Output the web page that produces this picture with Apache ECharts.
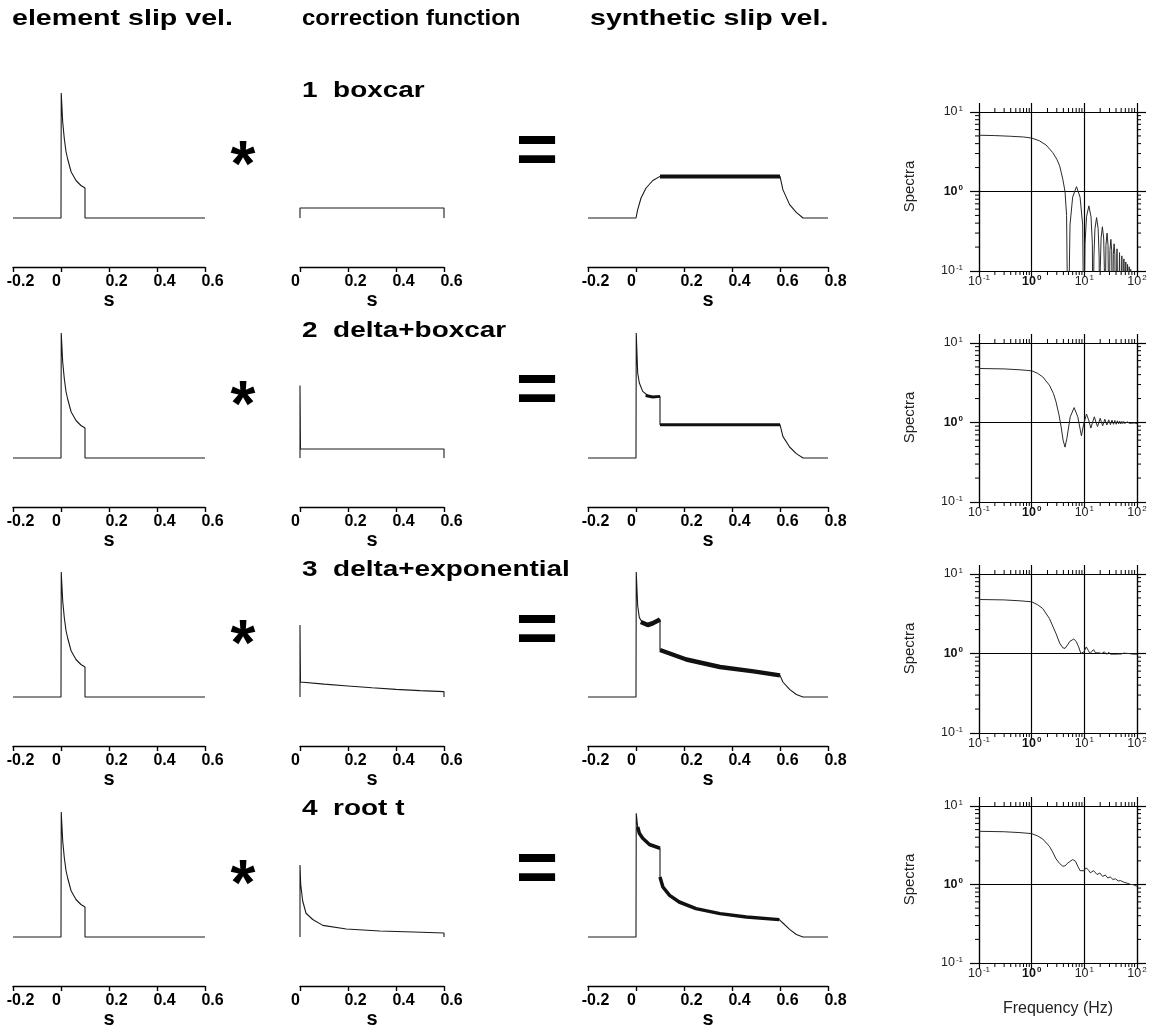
<!DOCTYPE html>
<html>
<head>
<meta charset="utf-8">
<title>slip velocity correction functions</title>
<script src="https://cdn.jsdelivr.net/npm/echarts@6/dist/echarts.min.js"></script>
<style>
html, body { margin: 0; padding: 0; background: #fff; }
#chart { width: 1161px; height: 1026px; }
</style>
</head>
<body>
<div id="chart"></div>
<script>
// ---- text ----
const columnTitles = ['element slip vel.', 'correction function', 'synthetic slip vel.'];
const rowTitles = ['1  boxcar', '2  delta+boxcar', '3  delta+exponential', '4  root t'];

// ---- time series, [t (s), amplitude] (element peak = 1) ----
const elementSlip = [[-0.2,0],[0,0],[0.001,1.0],[0.007,0.77],[0.014,0.63],[0.021,0.53],[0.028,0.47],[0.042,0.37],[0.0625,0.30],[0.083,0.26],[0.1,0.24],[0.1,0],[0.6,0]];

const corrBoxcar = [[0,0],[0,0.08],[0.6,0.08],[0.6,0]];
const corrDeltaBoxcar = [[0,0],[0,0.58],[0.002,0.072],[0.6,0.072],[0.6,0]];
const corrDeltaExp = [[0,0],[0,0.576],[0.002,0.12],[0.1,0.103],[0.2,0.088],[0.3,0.074],[0.4,0.061],[0.5,0.051],[0.6,0.043],[0.6,0]];
const corrRootT = [[0,0],[0,0.576],[0.003,0.42],[0.011,0.29],[0.025,0.19],[0.053,0.14],[0.095,0.093],[0.193,0.064],[0.332,0.048],[0.472,0.04],[0.6,0.032],[0.6,0]];

const synthBoxcar = [[-0.2,0],[0,0],[0.007,0.067],[0.021,0.16],[0.042,0.24],[0.07,0.30],[0.1,0.333],[0.6,0.333],[0.612,0.227],[0.64,0.107],[0.668,0.045],[0.696,0],[0.8,0]];
const synthDeltaBoxcar = [[-0.2,0],[0,0],[0.001,1.0],[0.007,0.68],[0.014,0.6],[0.028,0.533],[0.049,0.5],[0.07,0.488],[0.1,0.493],[0.1,0.267],[0.6,0.267],[0.612,0.173],[0.64,0.088],[0.668,0.035],[0.696,0],[0.8,0]];
const synthDeltaExp = [[-0.2,0],[0,0],[0.001,1.0],[0.007,0.73],[0.014,0.635],[0.028,0.59],[0.049,0.576],[0.07,0.59],[0.1,0.62],[0.1,0.376],[0.21,0.30],[0.35,0.24],[0.49,0.205],[0.6,0.173],[0.612,0.12],[0.64,0.061],[0.668,0.02],[0.696,0],[0.8,0]];
const synthRootT = [[-0.2,0],[0,0],[0.001,0.99],[0.007,0.88],[0.014,0.83],[0.028,0.79],[0.056,0.74],[0.1,0.71],[0.1,0.48],[0.112,0.40],[0.14,0.333],[0.18,0.28],[0.25,0.227],[0.35,0.187],[0.46,0.16],[0.597,0.139],[0.612,0.112],[0.64,0.061],[0.668,0.02],[0.696,0],[0.8,0]];

// stretches where the synthetic trace is a dense (thick) band
const synthBoxcarBands = [[[0.1,0.333],[0.6,0.333]]];
const synthDeltaBoxcarBands = [[[0.04,0.5],[0.07,0.488],[0.1,0.493]], [[0.1,0.267],[0.6,0.267]]];
const synthDeltaExpBands = [[[0.02,0.6],[0.049,0.576],[0.07,0.59],[0.1,0.62]], [[0.1,0.376],[0.21,0.30],[0.35,0.24],[0.49,0.205],[0.6,0.173]]];
const synthRootTBands = [[[0.007,0.88],[0.014,0.83],[0.028,0.79],[0.056,0.74],[0.1,0.71]], [[0.1,0.48],[0.112,0.40],[0.14,0.333],[0.18,0.28],[0.25,0.227],[0.35,0.187],[0.46,0.16],[0.597,0.139]]];

// ---- spectra, [frequency (Hz), amplitude] ----
const specBoxcar = [[0.1,5.1],[0.2,5.05],[0.4,4.95],[0.7,4.85],[1.0,4.7],[1.4,4.35],[1.87,3.85],[2.5,3.1],[3.0,2.55],[3.4,2.1],[3.9,1.43],[4.3,1.0],[4.6,0.5],[4.9,0.01],
  [5.35,0.38],[6.0,0.85],[7.1,1.15],[8.3,0.85],[9.3,0.38],[9.8,0.01],
  [10.3,0.22],[11.0,0.48],[12.2,0.66],[13.4,0.48],[14.2,0.22],[14.7,0.01],
  [15.2,0.15],[15.9,0.34],[17.1,0.47],[18.3,0.34],[19.1,0.15],[19.6,0.01],
  [20.1,0.11],[20.8,0.26],[22.0,0.36],[23.3,0.26],[24.0,0.11],[24.5,0.01],
  [25.7,0.21],[27.0,0.30],[28.2,0.21],[29.4,0.01],
  [30.6,0.18],[31.9,0.25],[33.1,0.18],[34.3,0.01],
  [35.5,0.16],[36.8,0.22],[38.0,0.16],[39.2,0.01],
  [41.7,0.19],[44.1,0.01],[46.6,0.17],[49.0,0.01],[51.5,0.155],[53.9,0.01],[56.4,0.142],[58.8,0.01],
  [61.3,0.13],[63.7,0.01],[66.2,0.121],[68.6,0.01],[71.1,0.113],[73.5,0.01],[76.0,0.105],[78.4,0.01],
  [80.9,0.099],[83.3,0.01],[85.8,0.093],[88.2,0.01],[90.7,0.088],[93.1,0.01],[95.6,0.084],[98,0.01],[100,0.03]];
const specDeltaBoxcar = [[0.1,4.78],[0.3,4.72],[0.6,4.6],[1.0,4.47],[1.3,4.15],[1.62,3.75],[2.17,2.95],[2.6,2.3],[2.9,1.82],[3.3,1.25],[3.63,0.88],[3.95,0.6],[4.3,0.49],[4.66,0.63],[5.4,1.18],[6.4,1.54],[7.5,1.18],[8.8,0.68],[9.7,0.95],[11.0,1.28],[12.2,1.05],[13.3,0.85],[14.3,1.0],[15.5,1.18],[16.7,1.0],[17.8,0.89],[18.9,1.0],[20.0,1.13],[21.2,1.0],[22.3,0.91],[23.4,1.0],[24.5,1.1],[25.7,1.0],[26.8,0.93],[29,1.08],[31.3,0.94],[33.5,1.07],[35.8,0.95],[38,1.06],[40.3,0.95],[42.5,1.05],[44.8,0.96],[47,1.04],[49.3,0.96],[51.5,1.03],[53.8,0.97],[56,1.03],[58.3,0.97],[60.5,1.02],[62.8,0.97],[65,1.02],[67.3,0.975],[69.5,1.015],[72,0.975],[76,1.01],[80,0.98],[85,1.0],[90,0.985],[100,0.97]];
const specDeltaExp = [[0.1,4.78],[0.3,4.72],[0.6,4.6],[1.0,4.47],[1.3,4.1],[1.62,3.68],[2.17,2.76],[2.9,1.78],[3.4,1.35],[3.9,1.18],[4.3,1.16],[4.8,1.28],[5.3,1.42],[6.3,1.52],[7.0,1.42],[7.8,1.21],[8.6,1.0],[9.1,0.95],[9.8,1.05],[10.9,1.21],[12.0,1.08],[12.8,1.0],[13.6,1.02],[15.0,1.12],[16.3,1.02],[17.5,0.97],[18.8,1.02],[20,1.08],[21.5,1.0],[22.5,0.97],[24,1.05],[26.8,0.975],[29,1.04],[31.3,0.98],[33.5,1.03],[35.8,0.98],[38,1.025],[40.3,0.98],[42.5,1.02],[45,0.985],[47,1.015],[50,0.985],[55,1.01],[60,0.985],[70,1.0],[80,0.985],[100,0.98]];
const specRootT = [[0.1,4.76],[0.3,4.7],[0.6,4.58],[1.0,4.45],[1.3,4.15],[1.62,3.8],[2.17,3.07],[2.5,2.6],[2.9,2.12],[3.4,1.85],[3.9,1.71],[4.3,1.73],[4.87,1.88],[6.0,2.08],[6.8,1.98],[7.5,1.71],[8.3,1.5],[9.0,1.43],[9.8,1.5],[10.9,1.63],[12.0,1.52],[13.0,1.41],[14.0,1.45],[15.0,1.5],[16.2,1.43],[17.4,1.34],[18.5,1.38],[19.7,1.4],[21,1.33],[22.2,1.27],[23.5,1.31],[25,1.32],[26.5,1.26],[28,1.21],[29.5,1.25],[31,1.25],[33,1.19],[35,1.16],[37,1.19],[39,1.18],[41.5,1.13],[44,1.11],[46.5,1.13],[49,1.12],[52,1.08],[56,1.07],[60,1.06],[65,1.04],[70,1.02],[76,1.0],[84,1.0],[92,0.97],[100,0.95]];

// log axis minor ticks
const minorMultipliers = [2, 3, 4, 5, 6, 7, 8, 9];
const freqDecades = [0.1, 1, 10];
const specDecades = [0.1, 1];

const rows = [
  { corr: corrBoxcar, synth: synthBoxcar, bands: synthBoxcarBands, spec: specBoxcar },
  { corr: corrDeltaBoxcar, synth: synthDeltaBoxcar, bands: synthDeltaBoxcarBands, spec: specDeltaBoxcar },
  { corr: corrDeltaExp, synth: synthDeltaExp, bands: synthDeltaExpBands, spec: specDeltaExp },
  { corr: corrRootT, synth: synthRootT, bands: synthRootTBands, spec: specRootT }
];

// ---- layout ----
const FONT = '"Liberation Sans", Arial, Helvetica, sans-serif';
const WAVE_AXIS_Y = [267, 507, 746, 986];
const WAVE_COLS = [
  { left: 13, width: 192, min: -0.2, max: 0.6 },
  { left: 300, width: 144, min: 0, max: 0.6 },
  { left: 588, width: 240, min: -0.2, max: 0.8 }
];
const Y_MIN = -0.392, Y_MAX = 1.2, PX_PER_UNIT = 125;
const BAND_WIDTH = [4, 3, 4.5, 3.5];
const SPEC_LEFT = 979, SPEC_W = 158;
const SPEC_TOP = [112, 343, 574, 806];
const SPEC_H = [159, 159, 159, 157];
const STAR_Y = [168, 408, 647, 887];
const EQ_Y = [153, 392, 632, 871];
const ROW_TITLE_Y = [91, 331, 570, 809];
const COL_TITLE_X = [12, 302, 590];
const COL_TITLE_STRETCH = [1.3, 1.09, 1.3];

const chart = echarts.init(document.getElementById('chart'));
const grids = [], xAxes = [], yAxes = [], series = [], graphics = [];

function timeLabel(v) {
  const r = Math.round(v * 10) / 10;
  return r === 0 ? '{z|0}' : '{d|' + r + '}';
}
const tickText = { fontSize: 16, fontWeight: 'bold', fontFamily: FONT, color: '#000', lineHeight: 16 };

// the 10^0 labels are printed heavier in the original
function powLabel(v) {
  const p = Math.round(Math.log10(v));
  return p === 0 ? '{bb|10}{eb|0}' : '{b|10}{e|' + p + '}';
}
const powRich = {
  b: { fontSize: 12.5, fontFamily: FONT, color: '#222' },
  e: { fontSize: 8, fontFamily: FONT, color: '#222', padding: [0, 0, 7, 1] },
  bb: { fontSize: 12.5, fontWeight: 'bold', fontFamily: FONT, color: '#111' },
  eb: { fontSize: 8, fontWeight: 'bold', fontFamily: FONT, color: '#111', padding: [0, 0, 7, 1] }
};

function tickLine(x1, y1, x2, y2) {
  return { type: 'line', shape: { x1, y1, x2, y2 }, style: { stroke: '#000', lineWidth: 1 } };
}

function makeGrid(left, width, top, height) {
  return { left, width, top, height, containLabel: false, outerBoundsMode: 'none' };
}

rows.forEach((row, r) => {
  const panels = [elementSlip, row.corr, row.synth];
  const h = (Y_MAX - Y_MIN) * PX_PER_UNIT;
  WAVE_COLS.forEach((col, c) => {
    const idx = grids.length;
    grids.push(makeGrid(col.left, col.width, WAVE_AXIS_Y[r] - h, h));
    xAxes.push({
      type: 'value', gridIndex: idx, min: col.min, max: col.max, interval: 0.2,
      axisLine: { onZero: false, lineStyle: { color: '#000', width: 1.4 } },
      axisTick: { length: 5, lineStyle: { color: '#000', width: 1.4 } },
      splitLine: { show: false },
      axisLabel: { margin: 7, formatter: timeLabel,
        rich: { z: Object.assign({ padding: [0, 9, 0, 0] }, tickText), d: Object.assign({ padding: [0, 0, 0, 15] }, tickText) } },
      name: 's', nameLocation: 'middle', nameGap: 19,
      nameTextStyle: { fontSize: 20, fontWeight: 'bold', fontFamily: FONT, color: '#000' }
    });
    yAxes.push({ type: 'value', gridIndex: idx, min: Y_MIN, max: Y_MAX, show: false });
    series.push({
      type: 'line', xAxisIndex: idx, yAxisIndex: idx, data: panels[c], symbol: 'none',
      lineStyle: { color: '#1a1a1a', width: 1.1 }, silent: true
    });
    if (c === 2) {
      row.bands.forEach(b => series.push({
        type: 'line', xAxisIndex: idx, yAxisIndex: idx, data: b, symbol: 'none',
        lineStyle: { color: '#111', width: BAND_WIDTH[r] }, silent: true
      }));
    }
  });
});

const xMinor = freqDecades.flatMap(d => minorMultipliers.map(m => [+(m * d).toPrecision(3), 1]));
const yMinor = specDecades.flatMap(d => minorMultipliers.map(m => [1, +(m * d).toPrecision(3)]));

rows.forEach((row, r) => {
  const g = grids.length;
  grids.push(makeGrid(SPEC_LEFT, SPEC_W, SPEC_TOP[r], SPEC_H[r]));
  const axisLine = { lineStyle: { color: '#000', width: 1.2 } };
  const xb = xAxes.length;
  xAxes.push({
    type: 'log', logBase: 10, gridIndex: g, min: 0.1, max: 100, position: 'bottom',
    axisLine, axisTick: { length: 6, lineStyle: { color: '#000', width: 1.2 } },
    splitLine: { show: true, lineStyle: { color: '#000', width: 1.2 } },
    axisLabel: { margin: 3, formatter: powLabel, rich: powRich }
  });
  xAxes.push({
    type: 'log', logBase: 10, gridIndex: g, min: 0.1, max: 100, position: 'top',
    axisLine, axisTick: { length: 9, lineStyle: { color: '#000', width: 1.2 } },
    splitLine: { show: false }, axisLabel: { show: false }
  });
  const yl = yAxes.length;
  yAxes.push({
    type: 'log', logBase: 10, gridIndex: g, min: 0.1, max: 10, position: 'left',
    axisLine, axisTick: { length: 9, lineStyle: { color: '#000', width: 1.2 } },
    splitLine: { show: true, lineStyle: { color: '#000', width: 1.2 } },
    axisLabel: { margin: 16, formatter: powLabel, rich: powRich }
  });
  yAxes.push({
    type: 'log', logBase: 10, gridIndex: g, min: 0.1, max: 10, position: 'right',
    axisLine, axisTick: { length: 9, lineStyle: { color: '#000', width: 1.2 } },
    splitLine: { show: false }, axisLabel: { show: false }
  });
  series.push({
    type: 'line', xAxisIndex: xb, yAxisIndex: yl, data: row.spec, symbol: 'none', clip: true,
    lineStyle: { color: '#2a2a2a', width: 1 }, silent: true
  });
  series.push({
    type: 'custom', xAxisIndex: xb, yAxisIndex: yl, data: xMinor, silent: true,
    renderItem: (params, api) => {
      const v = api.value(0);
      const b = api.coord([v, 0.1]), t = api.coord([v, 10]);
      return { type: 'group', children: [tickLine(b[0], b[1], b[0], b[1] + 4), tickLine(t[0], t[1], t[0], t[1] - 4)] };
    }
  });
  series.push({
    type: 'custom', xAxisIndex: xb, yAxisIndex: yl, data: yMinor, silent: true,
    renderItem: (params, api) => {
      const v = api.value(1);
      const a = api.coord([0.1, v]), b = api.coord([100, v]);
      return { type: 'group', children: [tickLine(a[0], a[1], a[0] - 4, a[1]), tickLine(b[0], b[1], b[0] + 4, b[1])] };
    }
  });

  graphics.push({
    type: 'text', x: 910, y: SPEC_TOP[r] + SPEC_H[r] / 2 - 5, rotation: Math.PI / 2,
    style: { text: 'Spectra', fontSize: 15, fontFamily: FONT, fill: '#222', align: 'center', verticalAlign: 'middle', textAlign: 'center', textVerticalAlign: 'middle' }
  });
});

function bigText(text, x, y, size, opts) {
  return Object.assign({
    type: 'text', x, y,
    style: { text, fontSize: size, fontWeight: 'bold', fontFamily: FONT, fill: '#000',
      align: 'left', verticalAlign: 'middle', textAlign: 'left', textVerticalAlign: 'middle' }
  }, opts || {});
}

columnTitles.forEach((t, i) => graphics.push(bigText(t, COL_TITLE_X[i], 19, 22, { scaleX: COL_TITLE_STRETCH[i] })));
rowTitles.forEach((t, r) => {
  graphics.push(bigText(t, 302, ROW_TITLE_Y[r], 22, { scaleX: 1.27 }));
  const star = bigText('*', 243, STAR_Y[r], 64);
  star.style.align = star.style.textAlign = 'center';
  graphics.push(star);
  const eq = bigText('=', 537, EQ_Y[r], 72);
  eq.style.align = eq.style.textAlign = 'center';
  graphics.push(eq);
});
graphics.push({
  type: 'text', x: 1058, y: 1009,
  style: { text: 'Frequency (Hz)', fontSize: 16, fontFamily: FONT, fill: '#222', align: 'center', verticalAlign: 'middle', textAlign: 'center', textVerticalAlign: 'middle' }
});

chart.setOption({
  animation: false,
  backgroundColor: '#fff',
  grid: grids,
  xAxis: xAxes,
  yAxis: yAxes,
  series: series,
  graphic: graphics
});
</script>
</body>
</html>
